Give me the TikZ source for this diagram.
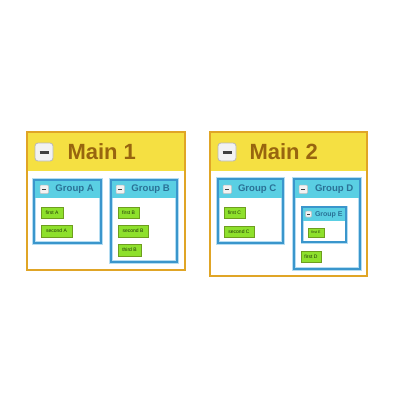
\documentclass[tikz,border=0pt]{standalone}
\usepackage{fontspec}
\setmainfont{Liberation Sans}
\definecolor{frameorange}{HTML}{E0A526}
\definecolor{headyellow}{HTML}{F5E042}
\definecolor{maintext}{HTML}{98650F}
\definecolor{frameblue}{HTML}{3A96CC}
\definecolor{halo}{HTML}{B5DDF2}
\definecolor{headcyan}{HTML}{5ACFE3}
\definecolor{grouptext}{HTML}{2A7196}
\definecolor{itemfill}{HTML}{8EE02C}
\definecolor{itemdraw}{HTML}{6E9E1E}
\definecolor{itemtext}{HTML}{1F3608}
\tikzset{
  every node/.style={inner sep=0, outer sep=0, anchor=north west},
  mainframe/.style={fill=white},
  mainborder/.style={draw=frameorange, line width=2},
  mainhead/.style={fill=headyellow},
  maintitle/.style={anchor=west, text=maintext, font=\fontsize{22}{22}\selectfont\bfseries},
  groupframe/.style={fill=white, draw=halo, line width=4},
  groupborder/.style={draw=frameblue, line width=2.4},
  grouphead/.style={fill=headcyan},
  grouptitle/.style={anchor=west, text=grouptext, font=\fontsize{9.6}{10}\selectfont\bfseries},
  smalltitle/.style={anchor=west, text=grouptext, font=\fontsize{7}{7}\selectfont\bfseries},
  itembox/.style={fill=itemfill, draw=itemdraw, line width=0.8, anchor=north west,
    align=center, text=itemtext, font=\fontsize{5}{5}\selectfont},
  bigbutton/.style={fill=black!5, draw=black!28, line width=0.8, rounded corners=3},
  smallbutton/.style={fill=black!5, draw=black!25, line width=0.5, rounded corners=1},
  minusbar/.style={draw=black!75, line cap=butt}
}
\newcommand{\minusbtn}[6]{%
  % #1 name, #2 x, #3 y, #4 size, #5 style, #6 bar width
  \node[#5, minimum width=#4, minimum height=#4] (#1) at (#2,#3) {};
  \draw[minusbar, line width=#6] ([xshift=0.25*#4]#1.west) -- ([xshift=-0.25*#4]#1.east);
}
\begin{document}
\begin{tikzpicture}[x=1pt, y=-1pt]
\useasboundingbox (0,0) rectangle (400,400);

% ---------- Main 1 ----------
\node[mainframe, minimum width=158, minimum height=138] (main1) at (27,132) {};
\node[mainhead, minimum width=158, minimum height=39] (main1head) at (27,132) {};
\draw[mainborder] (main1.north west) rectangle (main1.south east);
\minusbtn{main1btn}{35}{143}{18}{bigbutton}{3}
\node[maintitle] (main1title) at (67.5,152) {Main 1};

% Group A
\node[groupframe, minimum width=67, minimum height=63] (groupA) at (34,180) {};
\node[grouphead, minimum width=67, minimum height=18] (groupAhead) at (34,180) {};
\draw[groupborder] (groupA.north west) rectangle (groupA.south east);
\minusbtn{groupAbtn}{40}{185}{8.5}{smallbutton}{1.4}
\node[grouptitle] (groupAtitle) at (55.5,189.5) {Group A};
\node[itembox, minimum width=22, minimum height=11] (firstA) at (41,207) {first A};
\node[itembox, minimum width=31, minimum height=12] (secondA) at (41,225) {second A};

% Group B
\node[groupframe, minimum width=66, minimum height=82] (groupB) at (111,180) {};
\node[grouphead, minimum width=66, minimum height=18] (groupBhead) at (111,180) {};
\draw[groupborder] (groupB.north west) rectangle (groupB.south east);
\minusbtn{groupBbtn}{116}{185}{8.5}{smallbutton}{1.4}
\node[grouptitle] (groupBtitle) at (131.5,189.5) {Group B};
\node[itembox, minimum width=21, minimum height=11] (firstB) at (118,207) {first B};
\node[itembox, minimum width=30, minimum height=12] (secondB) at (118,225) {second B};
\node[itembox, minimum width=23, minimum height=12] (thirdB) at (118,244) {third B};

% ---------- Main 2 ----------
\node[mainframe, minimum width=157, minimum height=144] (main2) at (210,132) {};
\node[mainhead, minimum width=157, minimum height=39] (main2head) at (210,132) {};
\draw[mainborder] (main2.north west) rectangle (main2.south east);
\minusbtn{main2btn}{218}{143}{18}{bigbutton}{3}
\node[maintitle] (main2title) at (249.5,152) {Main 2};

% Group C
\node[groupframe, minimum width=65, minimum height=64] (groupC) at (218,179) {};
\node[grouphead, minimum width=65, minimum height=19] (groupChead) at (218,179) {};
\draw[groupborder] (groupC.north west) rectangle (groupC.south east);
\minusbtn{groupCbtn}{223}{185}{8.5}{smallbutton}{1.4}
\node[grouptitle] (groupCtitle) at (238,189) {Group C};
\node[itembox, minimum width=21, minimum height=11] (firstC) at (224,207) {first C};
\node[itembox, minimum width=30, minimum height=11] (secondC) at (224,226) {second C};

% Group D
\node[groupframe, minimum width=66, minimum height=90] (groupD) at (294,179) {};
\node[grouphead, minimum width=66, minimum height=19] (groupDhead) at (294,179) {};
\draw[groupborder] (groupD.north west) rectangle (groupD.south east);
\minusbtn{groupDbtn}{299}{185}{8.5}{smallbutton}{1.4}
\node[grouptitle] (groupDtitle) at (315,189) {Group D};

% Group E, nested in Group D
\node[groupframe, minimum width=44, minimum height=35, line width=3] (groupE) at (302,207) {};
\node[grouphead, minimum width=44, minimum height=14] (groupEhead) at (302,207) {};
\draw[groupborder, line width=2] (groupE.north west) rectangle (groupE.south east);
\minusbtn{groupEbtn}{305.5}{211}{6}{smallbutton}{1}
\node[smalltitle] (groupEtitle) at (315,214.5) {Group E};
\node[itembox, minimum width=16, minimum height=9, font=\fontsize{3.6}{4}\selectfont] (firstE) at (308,228) {first E};

\node[itembox, minimum width=20, minimum height=11] (firstD) at (301,251) {first D};
\end{tikzpicture}
\end{document}
